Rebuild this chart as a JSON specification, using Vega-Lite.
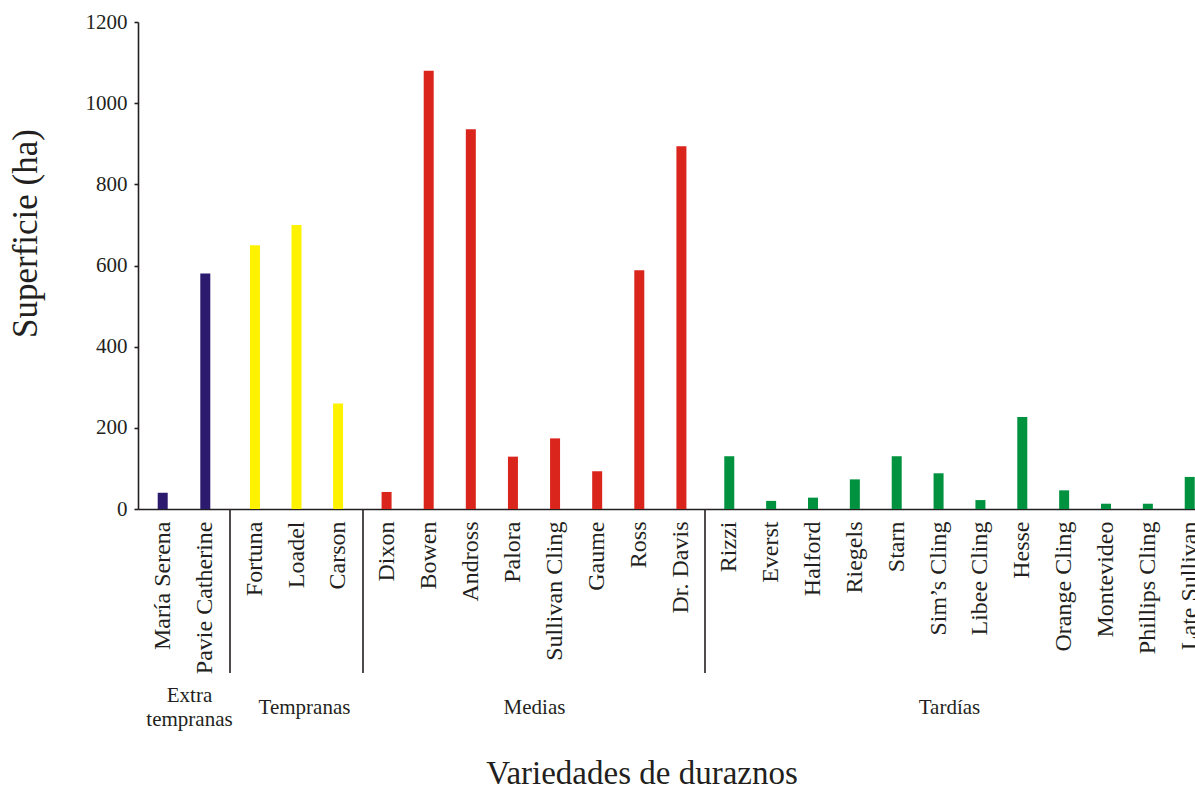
{
  "$schema": "https://vega.github.io/schema/vega-lite/v6.json",
  "padding": {"left": 8, "top": 11, "right": -18, "bottom": -7},
  "background": "white",
  "config": {
    "view": {"stroke": null},
    "font": "Liberation Serif",
    "axis": {
      "labelFont": "Liberation Serif",
      "titleFont": "Liberation Serif",
      "labelColor": "#231f20",
      "titleColor": "#231f20",
      "domainColor": "#231f20",
      "tickColor": "#231f20",
      "domainWidth": 1.6,
      "tickWidth": 1.6,
      "titleFontWeight": "normal",
      "grid": false
    }
  },
  "title": {
    "text": "Variedades de duraznos",
    "orient": "bottom",
    "anchor": "middle",
    "font": "Liberation Serif",
    "fontSize": 33,
    "fontWeight": "normal",
    "color": "#231f20",
    "offset": 29,
    "dx": 31
  },
  "data": {
    "values": [
      {"variedad": "María Serena", "grupo": "Extra tempranas", "superficie": 40},
      {"variedad": "Pavie Catherine", "grupo": "Extra tempranas", "superficie": 580},
      {"variedad": "Fortuna", "grupo": "Tempranas", "superficie": 650},
      {"variedad": "Loadel", "grupo": "Tempranas", "superficie": 700},
      {"variedad": "Carson", "grupo": "Tempranas", "superficie": 260},
      {"variedad": "Dixon", "grupo": "Medias", "superficie": 42},
      {"variedad": "Bowen", "grupo": "Medias", "superficie": 1080},
      {"variedad": "Andross", "grupo": "Medias", "superficie": 936},
      {"variedad": "Palora", "grupo": "Medias", "superficie": 129},
      {"variedad": "Sullivan Cling", "grupo": "Medias", "superficie": 174},
      {"variedad": "Gaume", "grupo": "Medias", "superficie": 93},
      {"variedad": "Ross", "grupo": "Medias", "superficie": 588},
      {"variedad": "Dr. Davis", "grupo": "Medias", "superficie": 894},
      {"variedad": "Rizzi", "grupo": "Tardías", "superficie": 130},
      {"variedad": "Everst", "grupo": "Tardías", "superficie": 20},
      {"variedad": "Halford", "grupo": "Tardías", "superficie": 28},
      {"variedad": "Riegels", "grupo": "Tardías", "superficie": 73},
      {"variedad": "Starn", "grupo": "Tardías", "superficie": 130},
      {"variedad": "Sim’s Cling", "grupo": "Tardías", "superficie": 88},
      {"variedad": "Libee Cling", "grupo": "Tardías", "superficie": 22},
      {"variedad": "Hesse", "grupo": "Tardías", "superficie": 227},
      {"variedad": "Orange Cling", "grupo": "Tardías", "superficie": 46},
      {"variedad": "Montevideo", "grupo": "Tardías", "superficie": 13},
      {"variedad": "Phillips Cling", "grupo": "Tardías", "superficie": 13},
      {"variedad": "Late Sullivan", "grupo": "Tardías", "superficie": 79}
    ]
  },
  "spacing": 0,
  "bounds": "flush",
  "hconcat": [
    {
      "width": 92,
      "height": 487,
      "transform": [{"filter": "datum.grupo === 'Extra tempranas'"}],
      "mark": {"type": "bar", "width": 10},
      "encoding": {
        "x": {
          "field": "variedad", "type": "nominal", "sort": null,
          "scale": {"paddingInner": 0, "paddingOuter": 0.08},
          "axis": {"title": ["Extra", "tempranas"], "titleFontSize": 21, "titleY": 186, "titleBaseline": "middle", "titleLineHeight": 24, "titleX": 51,
                   "labelAngle": -90, "labelFontSize": 24, "labelPadding": 12, "ticks": false, "tickSize": 0, "labelOverlap": false}
        },
        "y": {
          "field": "superficie", "type": "quantitative",
          "scale": {"domain": [0, 1200], "nice": false},
          "axis": {"title": "Superficie (ha)", "values": [0, 200, 400, 600, 800, 1000, 1200], "format": "d", "titleFontSize": 35, "titleX": -113, "titleY": 211, "titleBaseline": "middle",
                   "labelFontSize": 21, "tickSize": 4, "labelPadding": 7}
        },
        "color": {"field": "grupo", "type": "nominal", "legend": null,
          "scale": {"domain": ["Extra tempranas", "Tempranas", "Medias", "Tardías"], "range": ["#2B1A6E", "#FFF200", "#DA251D", "#00923F"]}}
      }
    },
    {
      "width": 133,
      "height": 487,
      "transform": [{"filter": "datum.grupo === 'Tempranas'"}],
      "layer": [
        {
          "mark": {"type": "bar", "width": 10},
          "encoding": {
            "x": {
              "field": "variedad", "type": "nominal", "sort": null,
              "scale": {"paddingInner": 0, "paddingOuter": 0.1},
              "axis": {"title": "Tempranas", "titleFontSize": 21, "titleY": 198, "titleBaseline": "middle", "titleX": 74,
                       "labelAngle": -90, "labelFontSize": 24, "labelPadding": 12, "ticks": false, "tickSize": 0, "labelOverlap": false}
            },
            "y": {"field": "superficie", "type": "quantitative", "scale": {"domain": [0, 1200], "nice": false}, "axis": null},
            "color": {"field": "grupo", "type": "nominal", "legend": null,
              "scale": {"domain": ["Extra tempranas", "Tempranas", "Medias", "Tardías"], "range": ["#2B1A6E", "#FFF200", "#DA251D", "#00923F"]}}
          }
        },
        {
          "transform": [{"filter": "datum.variedad === 'Fortuna'"}],
          "mark": {"type": "rule", "clip": false, "color": "#231f20", "strokeWidth": 1.6},
          "encoding": {
            "x": {"field": "variedad", "type": "nominal", "sort": null, "bandPosition": -0.1},
            "y": {"datum": 0, "type": "quantitative", "axis": null},
            "y2": {"datum": -404}
          }
        }
      ]
    },
    {
      "width": 342,
      "height": 487,
      "transform": [{"filter": "datum.grupo === 'Medias'"}],
      "layer": [
        {
          "mark": {"type": "bar", "width": 10},
          "encoding": {
            "x": {
              "field": "variedad", "type": "nominal", "sort": null,
              "scale": {"paddingInner": 0, "paddingOuter": 0.06},
              "axis": {"title": "Medias", "titleFontSize": 21, "titleY": 198, "titleBaseline": "middle",
                       "labelAngle": -90, "labelFontSize": 24, "labelPadding": 12, "ticks": false, "tickSize": 0, "labelOverlap": false}
            },
            "y": {"field": "superficie", "type": "quantitative", "scale": {"domain": [0, 1200], "nice": false}, "axis": null},
            "color": {"field": "grupo", "type": "nominal", "legend": null,
              "scale": {"domain": ["Extra tempranas", "Tempranas", "Medias", "Tardías"], "range": ["#2B1A6E", "#FFF200", "#DA251D", "#00923F"]}}
          }
        },
        {
          "transform": [{"filter": "datum.variedad === 'Dixon'"}],
          "mark": {"type": "rule", "clip": false, "color": "#231f20", "strokeWidth": 1.6},
          "encoding": {
            "x": {"field": "variedad", "type": "nominal", "sort": null, "bandPosition": -0.06},
            "y": {"datum": 0, "type": "quantitative", "axis": null},
            "y2": {"datum": -404}
          }
        }
      ]
    },
    {
      "width": 509,
      "height": 487,
      "transform": [{"filter": "datum.grupo === 'Tardías'"}],
      "layer": [
        {
          "mark": {"type": "bar", "width": 10},
          "encoding": {
            "x": {
              "field": "variedad", "type": "nominal", "sort": null,
              "scale": {"paddingInner": 0, "paddingOuter": 0.08},
              "axis": {"title": "Tardías", "titleFontSize": 21, "titleY": 198, "titleBaseline": "middle", "titleX": 244,
                       "labelAngle": -90, "labelFontSize": 24, "labelPadding": 12, "ticks": false, "tickSize": 0, "labelOverlap": false}
            },
            "y": {"field": "superficie", "type": "quantitative", "scale": {"domain": [0, 1200], "nice": false}, "axis": null},
            "color": {"field": "grupo", "type": "nominal", "legend": null,
              "scale": {"domain": ["Extra tempranas", "Tempranas", "Medias", "Tardías"], "range": ["#2B1A6E", "#FFF200", "#DA251D", "#00923F"]}}
          }
        },
        {
          "transform": [{"filter": "datum.variedad === 'Rizzi'"}],
          "mark": {"type": "rule", "clip": false, "color": "#231f20", "strokeWidth": 1.6},
          "encoding": {
            "x": {"field": "variedad", "type": "nominal", "sort": null, "bandPosition": -0.08},
            "y": {"datum": 0, "type": "quantitative", "axis": null},
            "y2": {"datum": -404}
          }
        }
      ]
    }
  ]
}
